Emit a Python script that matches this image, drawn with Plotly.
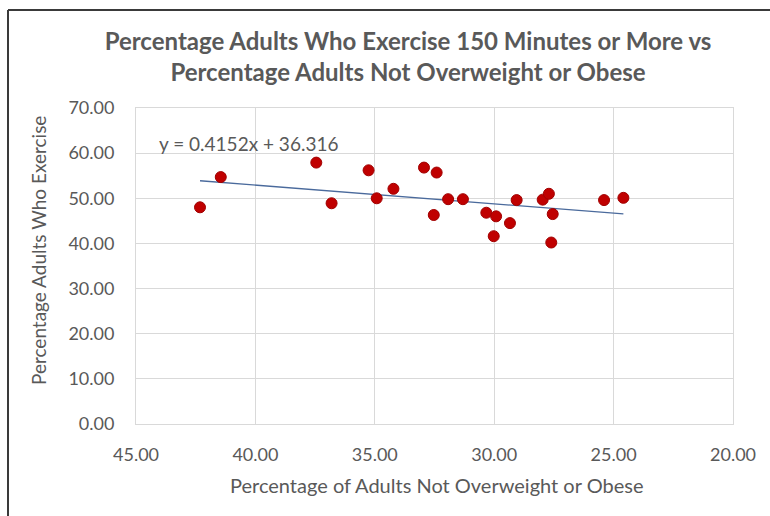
import plotly.graph_objects as go

# Percentage of adults not overweight or obese (x) vs percentage who exercise 150+ minutes (y)
not_overweight = [42.32, 41.45, 37.45, 36.81, 35.26, 34.92, 34.22, 32.94, 32.41, 32.53,
                  31.93, 31.31, 30.33, 29.92, 30.02, 29.34, 29.06, 27.97, 27.71, 27.55,
                  27.61, 25.40, 24.59]
exercise = [48.0, 54.7, 57.9, 48.9, 56.2, 50.0, 52.1, 56.8, 55.7, 46.3,
            49.8, 49.8, 46.8, 46.0, 41.6, 44.5, 49.6, 49.7, 51.0, 46.5,
            40.2, 49.6, 50.1]

# Linear trendline coefficients
slope = 0.4152
intercept = 36.316

x_ticks = [45, 40, 35, 30, 25, 20]
y_ticks = [0, 10, 20, 30, 40, 50, 60, 70]

FONT = "Lato"
TEXT = "#595959"
GRID = "#d9d9d9"

W, H = 770, 516
ML, MR, MT, MB = 136, 37, 108, 92

x_lo, x_hi = min(not_overweight), max(not_overweight)
trend_x = [x_hi, x_lo]
trend_y = [slope * v + intercept for v in trend_x]

fig = go.Figure()
fig.add_trace(go.Scatter(
    x=trend_x, y=trend_y, mode="lines",
    line=dict(color="#4a6a9c", width=1.3),
    hoverinfo="skip", showlegend=False,
))
fig.add_trace(go.Scatter(
    x=not_overweight, y=exercise, mode="markers",
    marker=dict(color="#c00000", size=11, line=dict(color="#a00000", width=1)),
    showlegend=False,
))

pw = W - ML - MR
ph = H - MT - MB


def px_to_paper_x(px):
    return (px - ML) / pw


def px_to_paper_y(py):
    return (H - MB - py) / ph


def centered_label(px, py, text, size, angle=0):
    fig.add_annotation(
        x=px_to_paper_x(px), y=px_to_paper_y(py), xref="paper", yref="paper",
        xanchor="center", yanchor="middle",
        text=text, showarrow=False, textangle=angle,
        font=dict(family=FONT, size=size, color=TEXT),
    )


# Trendline equation label
centered_label(248, 143, f"y = {slope}x + {intercept}", 19)

# Axis titles
centered_label(436, 485, "Percentage of Adults Not Overweight or Obese", 20)
centered_label(38, 251, "Percentage Adults Who Exercise", 19, angle=-90)

# Chart frame (top and left edges)
fig.add_shape(type="line", xref="paper", yref="paper",
              x0=px_to_paper_x(8), x1=px_to_paper_x(775),
              y0=px_to_paper_y(10), y1=px_to_paper_y(10),
              line=dict(color="#3a3a3a", width=2))
fig.add_shape(type="line", xref="paper", yref="paper",
              x0=px_to_paper_x(8), x1=px_to_paper_x(8),
              y0=px_to_paper_y(10), y1=px_to_paper_y(525),
              line=dict(color="#3a3a3a", width=2))

fig.update_layout(
    width=W, height=H,
    margin=dict(l=ML, r=MR, t=MT, b=MB),
    paper_bgcolor="white", plot_bgcolor="white",
    title=dict(
        text="Percentage Adults Who Exercise 150 Minutes or More vs<br>Percentage Adults Not Overweight or Obese",
        x=px_to_paper_x(408), xref="paper", xanchor="center",
        y=1 - 50 / H, yanchor="middle",
        font=dict(family=FONT, size=24, color=TEXT, weight="bold"),
    ),
    font=dict(family=FONT, color=TEXT),
)

fig.update_xaxes(
    range=[45, 20], tickvals=x_ticks,
    ticktext=[f"{v:.2f}" for v in x_ticks],
    tickfont=dict(family=FONT, size=18, color=TEXT),
    showgrid=True, gridcolor=GRID, gridwidth=1,
    zeroline=False, showline=True, linecolor=GRID, mirror=True,
    ticks="", ticklabelstandoff=14,
)
fig.update_yaxes(
    range=[0, 70], tickvals=y_ticks,
    ticktext=[f"{v:.2f}" for v in y_ticks],
    tickfont=dict(family=FONT, size=18, color=TEXT),
    showgrid=True, gridcolor=GRID, gridwidth=1,
    zeroline=False, showline=True, linecolor=GRID, mirror=True,
    ticks="", ticklabelstandoff=17,
)

fig.write_html("out.html")
